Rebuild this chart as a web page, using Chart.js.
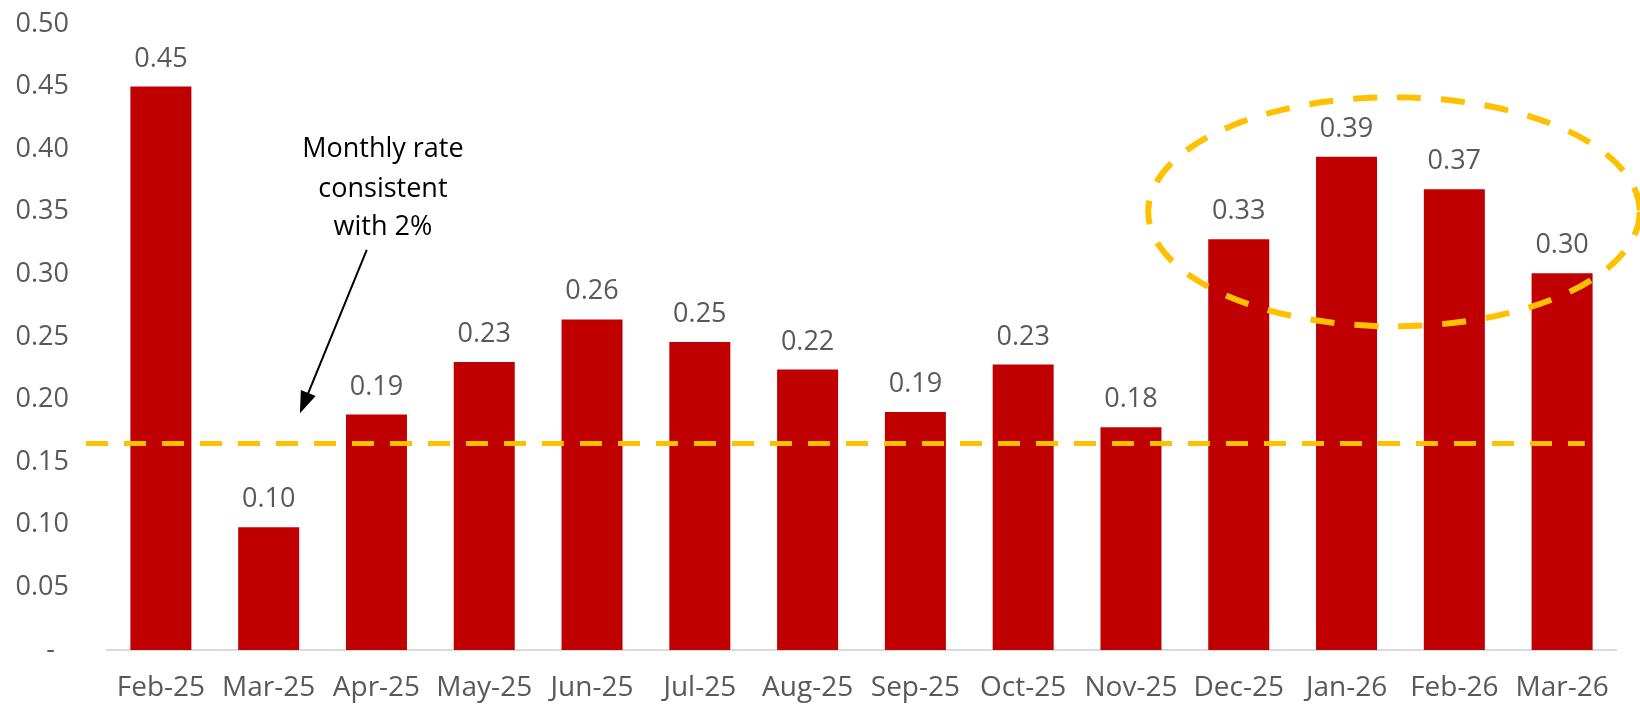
<!DOCTYPE html>
<html>
<head>
<meta charset="utf-8">
<script src="https://cdn.jsdelivr.net/npm/chart.js@4/dist/chart.umd.min.js"></script>
<style>
  html, body { margin: 0; padding: 0; background: #fff; }
  #wrap { width: 1640px; height: 705px; position: relative; }
</style>
</head>
<body>
<div id="wrap"><canvas id="chart"></canvas></div>
<script>
// data
var months = ["Feb-25", "Mar-25", "Apr-25", "May-25", "Jun-25", "Jul-25", "Aug-25",
              "Sep-25", "Oct-25", "Nov-25", "Dec-25", "Jan-26", "Feb-26", "Mar-26"];
var rates = [0.45, 0.098, 0.188, 0.23, 0.264, 0.246, 0.224, 0.19, 0.228, 0.178, 0.328, 0.394, 0.368, 0.301];
var target = 0.165;            // monthly rate consistent with 2%
var targetSpan = [-0.195, 13.71]; // on the 0..14 position axis
var yTicks = [0, 0.05, 0.1, 0.15, 0.2, 0.25, 0.3, 0.35, 0.4, 0.45, 0.5];

var FONT = "'Open Sans', sans-serif";
var GREY = "#595959";
var GOLD = "#FFC000";

// value labels over bars
var barLabels = {
    id: 'barLabels',
    afterDatasetsDraw: function(chart) {
        var ctx = chart.ctx;
        var meta = chart.getDatasetMeta(0);
        ctx.save();
        ctx.font = "27px " + FONT;
        ctx.fillStyle = GREY;
        ctx.textAlign = "center";
        ctx.textBaseline = "alphabetic";
        meta.data.forEach(function(bar, i) {
            ctx.fillText(rates[i].toFixed(2), bar.x, bar.y - 20);
        });
        ctx.restore();
    }
};

// ellipse, arrow and note (positions in axis units)
var notes = {
    id: 'notes',
    afterDatasetsDraw: function(chart) {
        var ctx = chart.ctx;
        var xs = chart.scales.xl, ys = chart.scales.y;
        ctx.save();

        // dashed ellipse round the last months
        var cx = xs.getPixelForValue(11.94), cy = ys.getPixelForValue(0.35);
        var rx = xs.getPixelForValue(11.94 + 2.28) - cx;
        var ry = cy - ys.getPixelForValue(0.35 + 0.0915);
        ctx.strokeStyle = GOLD;
        ctx.lineWidth = 6;
        ctx.setLineDash([24, 20]);
        ctx.beginPath();
        ctx.ellipse(cx, cy, rx, ry, 0, 0, Math.PI * 2);
        ctx.stroke();
        ctx.setLineDash([]);

        // arrow
        var x1 = xs.getPixelForValue(2.41), y1 = ys.getPixelForValue(0.3195);
        var x2 = xs.getPixelForValue(1.79), y2 = ys.getPixelForValue(0.189);
        var ang = Math.atan2(y2 - y1, x2 - x1);
        var hl = 22, hw = 8;
        ctx.strokeStyle = "#000";
        ctx.lineWidth = 2;
        ctx.beginPath();
        ctx.moveTo(x1, y1);
        ctx.lineTo(x2 - Math.cos(ang) * hl * 0.8, y2 - Math.sin(ang) * hl * 0.8);
        ctx.stroke();
        ctx.fillStyle = "#000";
        ctx.beginPath();
        ctx.moveTo(x2, y2);
        ctx.lineTo(x2 - Math.cos(ang) * hl + Math.sin(ang) * hw, y2 - Math.sin(ang) * hl - Math.cos(ang) * hw);
        ctx.lineTo(x2 - Math.cos(ang) * hl - Math.sin(ang) * hw, y2 - Math.sin(ang) * hl + Math.cos(ang) * hw);
        ctx.closePath();
        ctx.fill();

        // note text
        ctx.font = "27px " + FONT;
        ctx.textAlign = "center";
        ctx.textBaseline = "alphabetic";
        var tx = xs.getPixelForValue(2.56);
        ctx.fillText("Monthly rate", tx, ys.getPixelForValue(0.3938));
        ctx.fillText("consistent", tx, ys.getPixelForValue(0.3618));
        ctx.fillText("with 2%", tx, ys.getPixelForValue(0.3315));
        ctx.restore();
    }
};

var ctx = document.getElementById("chart").getContext("2d");
var chart = new Chart(ctx, {
    type: 'bar',
    data: {
        labels: months,
        datasets: [{
            data: rates,
            xAxisID: 'x',
            backgroundColor: "#C00000",
            borderWidth: 0,
            grouped: false,
            categoryPercentage: 1,
            barPercentage: 0.566,
            order: 2
        }, {
            type: 'line',
            xAxisID: 'xl',
            data: [{ x: targetSpan[0], y: target }, { x: targetSpan[1], y: target }],
            borderColor: GOLD,
            borderWidth: 5,
            borderDash: [22, 16],
            pointRadius: 0,
            clip: false,
            order: 1
        }]
    },
    options: {
        responsive: true,
        maintainAspectRatio: false,
        animation: false,
        layout: { autoPadding: false, padding: { top: 24, right: 24, left: 0, bottom: 0 } },
        plugins: { legend: { display: false }, tooltip: { enabled: false } },
        scales: {
            x: {
                grid: { display: false, drawTicks: false },
                border: { color: "#d9d9d9", width: 2 },
                ticks: { color: GREY, font: { family: FONT, size: 28 }, padding: 21, maxRotation: 0, autoSkip: false },
                afterFit: function(s) { s.height = 55; }
            },
            xl: { type: 'linear', position: 'bottom', display: false, offset: false, min: 0, max: 14 },
            y: {
                min: 0, max: 0.5,
                grid: { display: false, drawTicks: false },
                border: { display: false },
                afterBuildTicks: function(s) { s.ticks = yTicks.map(function(v) { return { value: v }; }); },
                ticks: {
                    color: GREY,
                    font: { family: FONT, size: 27 },
                    padding: 38,
                    callback: function(v) { return v === 0 ? "-  " : v.toFixed(2); }
                },
                afterFit: function(s) { s.width = 107; s.paddingTop = 0; s.paddingBottom = 0; }
            }
        }
    },
    plugins: [barLabels, notes]
});
</script>
</body>
</html>
